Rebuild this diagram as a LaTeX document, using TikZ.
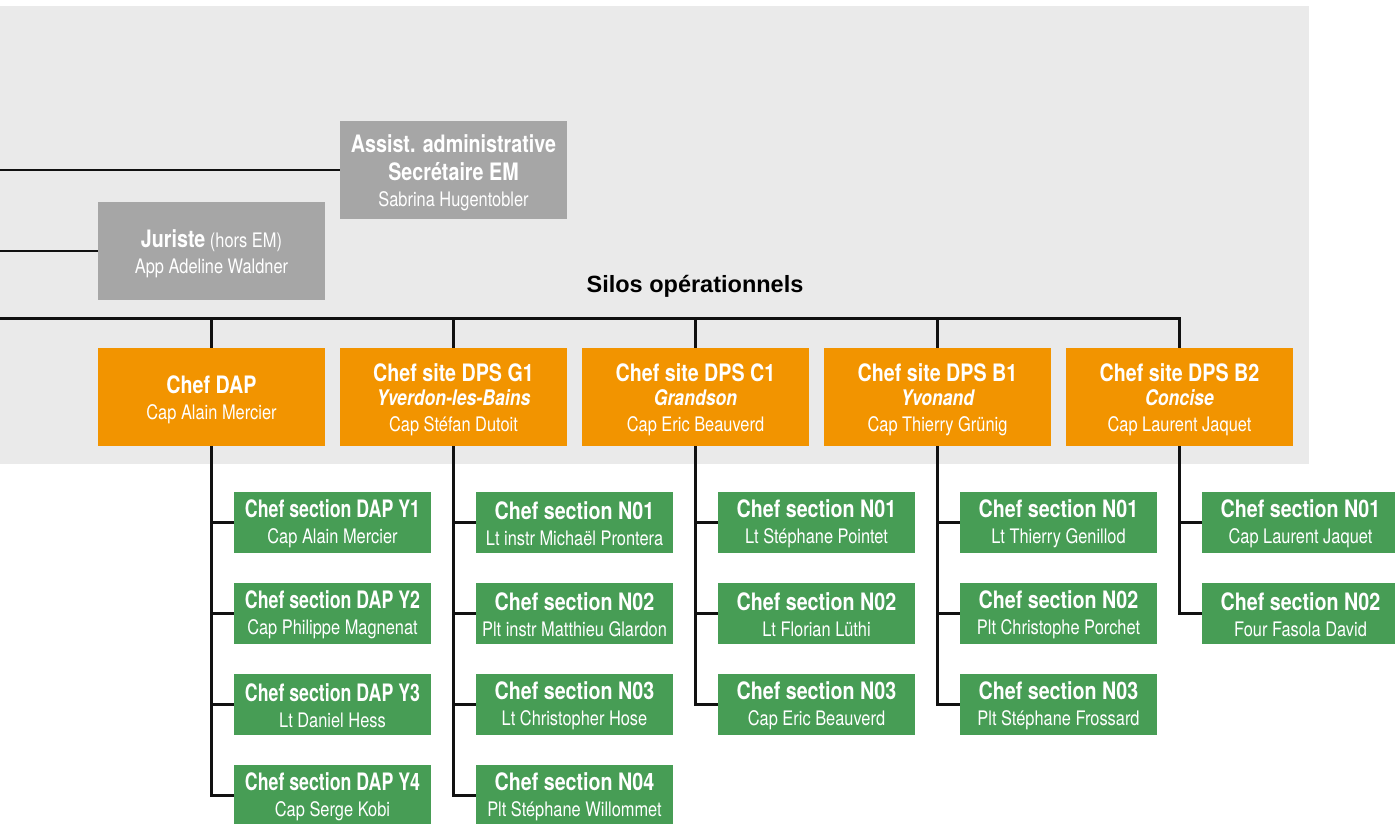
\documentclass[tikz,border=0pt]{standalone}
\usepackage{fontspec}
\setmainfont[FakeStretch=0.82]{TeX Gyre Heros}
\newfontfamily\narrowfont[FakeStretch=0.74]{TeX Gyre Heros}
\newfontfamily\labelfont{Liberation Sans}
\usepackage{tikz}
\definecolor{bgc}{HTML}{EAEAEA}
\definecolor{staff}{HTML}{A6A6A6}
\definecolor{site}{HTML}{F29400}
\definecolor{section}{HTML}{479D55}
\definecolor{wire}{HTML}{111111}
\newcommand\ttl{\fontsize{24}{26}\selectfont\bfseries}
\newcommand\loc{\fontsize{21.5}{26}\selectfont\bfseries\itshape}
% first line of a box, with a strut that pushes the text down a little
\newcommand\hd[2][24pt]{{\ttl\rule{0pt}{#1}#2}}
\tikzset{
  box/.style={text=white, inner sep=0pt, align=center, font=\fontsize{20}{27}\selectfont},
  staffbox/.style={box, fill=staff, minimum width=227pt, minimum height=98pt},
  sitebox/.style={box, fill=site, minimum width=227pt, minimum height=98pt,
    font=\fontsize{20}{26}\selectfont},
  secbox/.style={box, fill=section, minimum width=197pt, minimum height=61pt},
  link/.style={draw=wire, line width=2.6pt},
  silo/.style={font=\labelfont\bfseries\fontsize{23.5}{26}\selectfont, text=black}
}
\begin{document}
\begin{tikzpicture}[x=1pt, y=-1pt]
  \useasboundingbox (0,0) rectangle (1395,823);
  \fill[bgc] (0,6) rectangle (1309,464);

  % staff boxes
  \node[staffbox] (assist) at (453.5,170) {\hd{Assist. administrative}\\[1pt]{\ttl Secrétaire EM}\\[-1pt]Sabrina Hugentobler};
  \node[staffbox] (jur) at (211.5,251) {\hd{Juriste} (hors EM)\\[-1pt]App Adeline Waldner};
  \coordinate (inA) at (0,170);
  \coordinate (inJ) at (0,251);
  \draw[link] (inA) -- (assist.west);
  \draw[link] (inJ) -- (jur.west);

  \node[silo] (silos) at (695,286) {Silos opérationnels};

  % sites
  \node[sitebox] (o1) at (211.5,397) {\hd{Chef DAP}\\Cap Alain Mercier};
  \node[sitebox] (o2) at (453.5,397) {\hd{Chef site DPS G1}\\[-2pt]{\loc Yverdon-les-Bains}\\Cap Stéfan Dutoit};
  \node[sitebox] (o3) at (695.5,397) {\hd{Chef site DPS C1}\\[-2pt]{\loc Grandson}\\Cap Eric Beauverd};
  \node[sitebox] (o4) at (937.5,397) {\hd{Chef site DPS B1}\\[-2pt]{\loc Yvonand}\\Cap Thierry Grünig};
  \node[sitebox] (o5) at (1179.5,397) {\hd{Chef site DPS B2}\\[-2pt]{\loc Concise}\\Cap Laurent Jaquet};

  \coordinate (bus) at (0,318.5);
  \draw[link] (bus) -| (o5.north);
  \foreach \k in {1,...,4}
    \draw[link] (o\k.north) -- (o\k.north |- bus);

  % sections
  \foreach \s/\p [count=\i] in {Y1/Cap Alain Mercier,Y2/Cap Philippe Magnenat,Y3/Lt Daniel Hess,Y4/Cap Serge Kobi}
    \node[secbox] (g1\i) at (332.5,{431.5+91*\i}) {{\narrowfont\hd[21pt]{Chef section DAP \s}}\\[-1pt]\p};
  \foreach \p [count=\i] in {Lt instr Michaël Prontera,Plt instr Matthieu Glardon,Lt Christopher Hose,Plt Stéphane Willommet}
    \node[secbox] (g2\i) at (574.5,{431.5+91*\i}) {\hd[21pt]{Chef section N0\i}\\[-1pt]\p};
  \foreach \p [count=\i] in {Lt Stéphane Pointet,Lt Florian Lüthi,Cap Eric Beauverd}
    \node[secbox] (g3\i) at (816.5,{431.5+91*\i}) {\hd[21pt]{Chef section N0\i}\\[-1pt]\p};
  \foreach \p [count=\i] in {Lt Thierry Genillod,Plt Christophe Porchet,Plt Stéphane Frossard}
    \node[secbox] (g4\i) at (1058.5,{431.5+91*\i}) {\hd[21pt]{Chef section N0\i}\\[-1pt]\p};
  \foreach \p [count=\i] in {Cap Laurent Jaquet,Four Fasola David}
    \node[secbox] (g5\i) at (1300.5,{431.5+91*\i}) {\hd[21pt]{Chef section N0\i}\\[-1pt]\p};

  % branches
  \draw[link] (o1.south) |- (g14.west);
  \draw[link] (o2.south) |- (g24.west);
  \draw[link] (o3.south) |- (g33.west);
  \draw[link] (o4.south) |- (g43.west);
  \draw[link] (o5.south) |- (g52.west);
  \foreach \i in {1,...,3} \draw[link] (o1.south |- g1\i.west) -- (g1\i.west);
  \foreach \i in {1,...,3} \draw[link] (o2.south |- g2\i.west) -- (g2\i.west);
  \foreach \i in {1,2} \draw[link] (o3.south |- g3\i.west) -- (g3\i.west);
  \foreach \i in {1,2} \draw[link] (o4.south |- g4\i.west) -- (g4\i.west);
  \draw[link] (o5.south |- g51.west) -- (g51.west);
\end{tikzpicture}
\end{document}
